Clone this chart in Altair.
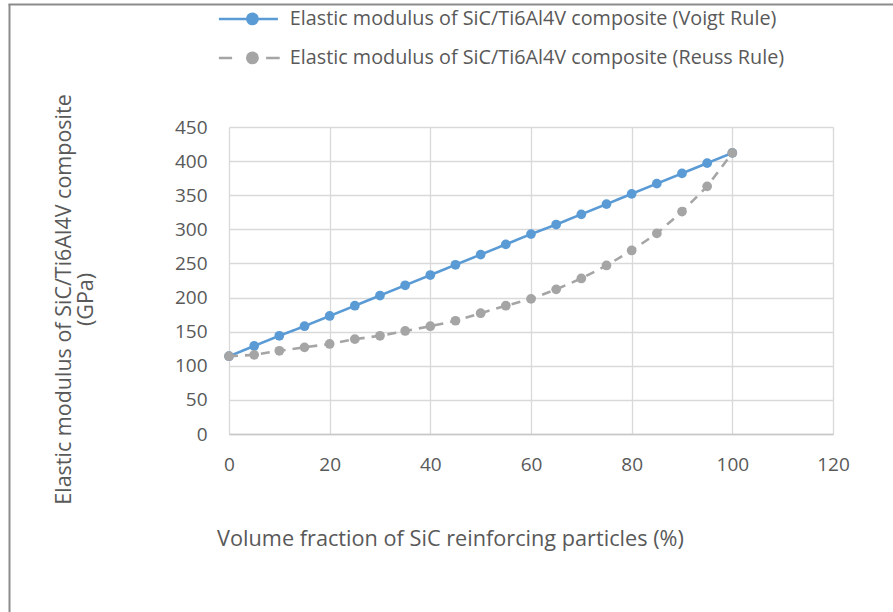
import altair as alt
import pandas as pd

# SiC volume fraction (%) and composite modulus (GPa) by two bounding rules
fraction = [0, 5, 10, 15, 20, 25, 30, 35, 40, 45, 50, 55, 60, 65, 70, 75, 80, 85, 90, 95, 100]
voigt = [114, 129, 144, 158, 173, 188, 203, 218, 233, 248, 263, 278, 293, 307, 322, 337, 352, 367, 382, 397, 412]
reuss = [114, 116, 122, 127, 132, 139, 144, 151, 158, 166, 177, 188, 198, 212, 228, 247, 269, 294, 326, 363, 412]

name_voigt = "Elastic modulus of SiC/Ti6Al4V composite (Voigt Rule)"
name_reuss = "Elastic modulus of SiC/Ti6Al4V composite (Reuss Rule)"
x_ticks = [0, 20, 40, 60, 80, 100, 120]
y_ticks = [0, 50, 100, 150, 200, 250, 300, 350, 400, 450]

BLUE = "#5b9bd5"
GRAY = "#a5a5a5"
TEXT = "#595959"
GRID = "#d9d9d9"
FONT = "Open Sans"

df_v = pd.DataFrame({"x": fraction, "E": voigt, "series": name_voigt})
df_r = pd.DataFrame({"x": fraction, "E": reuss, "series": name_reuss})
df_all = pd.concat([df_v, df_r], ignore_index=True)


# legend glyphs: unit = 8 px (symbolSize 256), line sample with a marker in the middle
def circle(cx, r):
    return f"M{cx + r},0 A{r},{r} 0 1,1 {cx - r},0 A{r},{r} 0 1,1 {cx + r},0 Z"


path_voigt = "M-1,0 L6.375,0 " + circle(3.19, 0.65)
path_reuss = "M-1,0 L0.65,0 M4.9,0 L6.6,0 " + circle(3.19, 0.65)

domain = [name_voigt, name_reuss]
color_scale = alt.Scale(domain=domain, range=[BLUE, GRAY])
shape_scale = alt.Scale(domain=domain, range=[path_voigt, path_reuss])

legend = alt.Legend(
    title=None,
    orient="none",
    legendX=-12,
    legendY=-118,
    padding=0,
    symbolSize=256,
    symbolStrokeWidth=2.5,
    symbolOpacity=1,
    labelOffset=53,
    rowPadding=17,
    labelFont=FONT,
    labelFontSize=19.8,
    labelColor=TEXT,
    labelLimit=0,
)

x_enc = alt.X(
    "x:Q",
    scale=alt.Scale(domain=[0, 120], nice=False),
    axis=alt.Axis(
        values=x_ticks,
        title="Volume fraction of SiC reinforcing particles (%)",
        titleX=221,
        titleY=104,
        titleAlign="center",
        titleBaseline="middle",
        titleFontSize=21.7,
        labelPadding=30,
        labelBaseline="middle",
        labelFlush=False,
    ),
)
y_enc = alt.Y(
    "E:Q",
    scale=alt.Scale(domain=[0, 450], nice=False),
    axis=alt.Axis(
        values=y_ticks,
        title=["Elastic modulus of SiC/Ti6Al4V composite", "(GPa)"],
        titleX=-165,
        titleY=172,
        titleAlign="center",
        titleBaseline="middle",
        titleAngle=270,
        titleLineHeight=22,
        labelPadding=22,
        domain=False,
    ),
)
color_enc = alt.Color("series:N", scale=color_scale, legend=legend)

# key carrier: filtered to nothing, it only supplies the legend glyph shapes
key = (
    alt.Chart(df_all)
    .transform_filter("false")
    .mark_point(filled=True, opacity=1)
    .encode(
        x=x_enc,
        y=y_enc,
        color=color_enc,
        shape=alt.Shape("series:N", scale=shape_scale, legend=legend),
    )
)


def series_layers(df, dash):
    base = alt.Chart(df).encode(x=x_enc, y=y_enc, color=alt.Color("series:N", scale=color_scale, legend=None))
    line = base.mark_line(strokeWidth=2.6, strokeDash=dash)
    pts = base.mark_point(filled=True, size=95, opacity=1)
    return [line, pts]


# outer frame lines (left and top edges of the chart box)
frame_left = alt.Chart().mark_rule(color="#8c8c8c", strokeWidth=2).encode(
    x=alt.value(-219.5), y=alt.value(-123), y2=alt.value(485)
)
frame_top = alt.Chart().mark_rule(color="#8c8c8c", strokeWidth=2).encode(
    x=alt.value(-220.5), x2=alt.value(664), y=alt.value(-122.5)
)

chart = (
    alt.layer(
        key,
        *series_layers(df_v, [1, 0]),
        *series_layers(df_r, [9, 7]),
        frame_left,
        frame_top,
    )
    .properties(
        width=604,
        height=307,
        autosize=alt.AutoSizeParams(type="none"),
        padding={"left": 229, "top": 127, "right": 60, "bottom": 178},
        background="white",
    )
    .configure_view(stroke=None)
    .configure_axis(
        grid=True,
        gridColor=GRID,
        gridWidth=1.3,
        ticks=False,
        tickSize=0,
        domainColor="#c8c8c8",
        domainWidth=1.3,
        labelFont=FONT,
        labelFontSize=19,
        labelColor=TEXT,
        titleFont=FONT,
        titleFontSize=21.5,
        titleFontWeight="normal",
        titleColor=TEXT,
    )
)

chart.save("out.html", embed_options={"renderer": "svg", "actions": False})
